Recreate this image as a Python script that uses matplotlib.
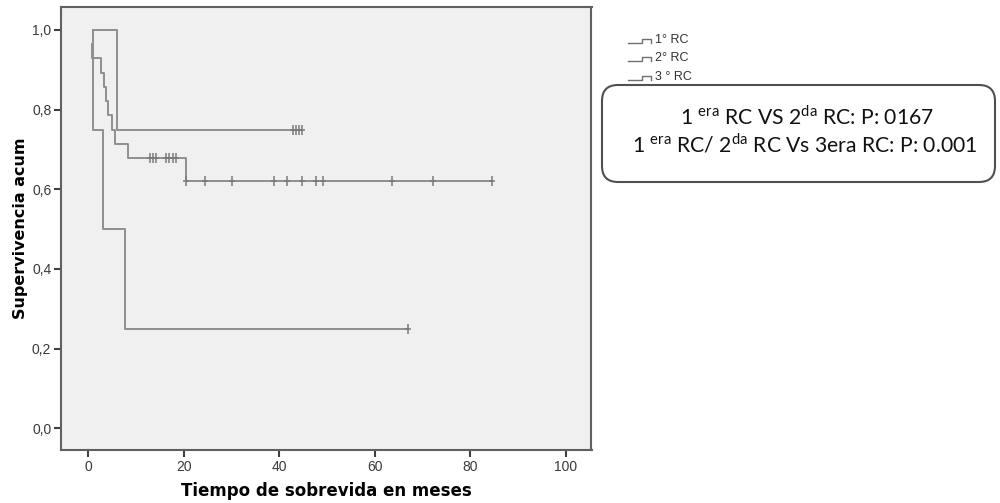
import matplotlib
matplotlib.use('Agg')
import matplotlib.pyplot as plt
from matplotlib.lines import Line2D
from matplotlib.patches import FancyBboxPatch

# Curvas de supervivencia (tiempo en meses, supervivencia acumulada)
t1 = [1.0, 6.0, 44.7]
s1 = [1.0, 0.75, 0.75]
t2 = [0.7, 0.7, 2.7, 3.35, 3.65, 4.05, 4.9, 5.6, 8.4, 20.4, 84.5]
s2 = [0.964, 0.929, 0.893, 0.857, 0.821, 0.786, 0.75, 0.714, 0.679, 0.622, 0.622]
t3 = [1.0, 1.0, 3.0, 7.7, 67.0]
s3 = [1.0, 0.75, 0.5, 0.25, 0.25]

# Casos censurados
cens1_t = [42.9, 43.5, 44.1, 44.7]
cens1_s = [0.75, 0.75, 0.75, 0.75]
cens2_t = [12.9, 13.5, 14.1, 16.3, 17.0, 17.7, 18.3,
           20.4, 24.4, 30.2, 38.9, 41.6, 44.7, 47.7, 49.2, 63.6, 72.1, 84.5]
cens2_s = [0.679] * 7 + [0.622] * 11
cens3_t = [67.0]
cens3_s = [0.25]

labels = ['1° RC', '2° RC', '3 ° RC']
xticks = [0, 20, 40, 60, 80, 100]
yticks = [0.0, 0.2, 0.4, 0.6, 0.8, 1.0]
ytick_labels = ['0,0', '0,2', '0,4', '0,6', '0,8', '1,0']

plt.rcParams['mathtext.fontset'] = 'custom'
plt.rcParams['mathtext.rm'] = 'Lato'

fig = plt.figure(figsize=(10, 5.03), dpi=100)
ax = fig.add_axes([0.061, 0.1054, 0.5305, 0.8801])
ax.set_facecolor('#f0f0f0')

line_col = '#8f8f8f'
for t, s in [(t1, s1), (t2, s2), (t3, s3)]:
    ax.step(t, s, where='post', color=line_col, lw=1.4)
for ct, cs in [(cens1_t, cens1_s), (cens2_t, cens2_s), (cens3_t, cens3_s)]:
    ax.plot(ct, cs, ls='none', marker='|', ms=7, mew=1.1, color='#7a7a7a')
    ax.plot(ct, cs, ls='none', marker='_', ms=5, mew=1.1, color='#7a7a7a')

ax.set_xlim(-5.72, 105.4)
ax.set_ylim(-0.0545, 1.057)
ax.set_xticks(xticks)
ax.set_yticks(yticks)
ax.set_yticklabels(ytick_labels)
ax.tick_params(direction='out', length=5, width=1.5, color='#404040',
               labelsize=10, labelcolor='#3a3a3a', pad=2)
for lbl in ax.get_xticklabels() + ax.get_yticklabels():
    lbl.set_family('Liberation Sans')
for sp in ax.spines.values():
    sp.set_color('#606060')
    sp.set_linewidth(1.5)

ax.set_xlabel('Tiempo de sobrevida en meses', fontsize=12, fontweight='bold', labelpad=6)
ax.set_ylabel('Supervivencia acum', fontsize=11.5, fontweight='bold', labelpad=3)

# Leyenda con simbolo escalonado
for i, lab in enumerate(labels):
    yb = 42.7 + i * 18.5
    xs = [628, 642, 642, 651, 651]
    ys = [yb, yb, yb - 4, yb - 4, yb]
    fig.add_artist(Line2D([v / 1000 for v in xs], [1 - v / 503 for v in ys],
                          color='#707070', lw=1.0))
    fig.text(655 / 1000, 1 - (40 + i * 18.3) / 503, lab, family='Liberation Sans',
             fontsize=9, color='#333333', va='center', ha='left')

# Recuadro con los valores p
box = FancyBboxPatch((6.02, 3.21), 3.93, 0.97,
                     boxstyle='round,pad=0,rounding_size=0.16',
                     transform=fig.dpi_scale_trans, fill=False,
                     edgecolor='#505050', lw=1.5)
fig.add_artist(box)
fig.text(0.807, 1 - 116.7 / 503, r'1 $^{\mathrm{era}}$ RC VS 2$^{\mathrm{da}}$ RC: P: 0167',
         family='Lato', fontsize=15.2, ha='center', va='center', color='#111111')
fig.text(0.805, 1 - 145 / 503, r'1 $^{\mathrm{era}}$ RC/ 2$^{\mathrm{da}}$ RC Vs 3era RC: P: 0.001',
         family='Lato', fontsize=15.2, ha='center', va='center', color='#111111')

fig.savefig('out.png', dpi=100)
